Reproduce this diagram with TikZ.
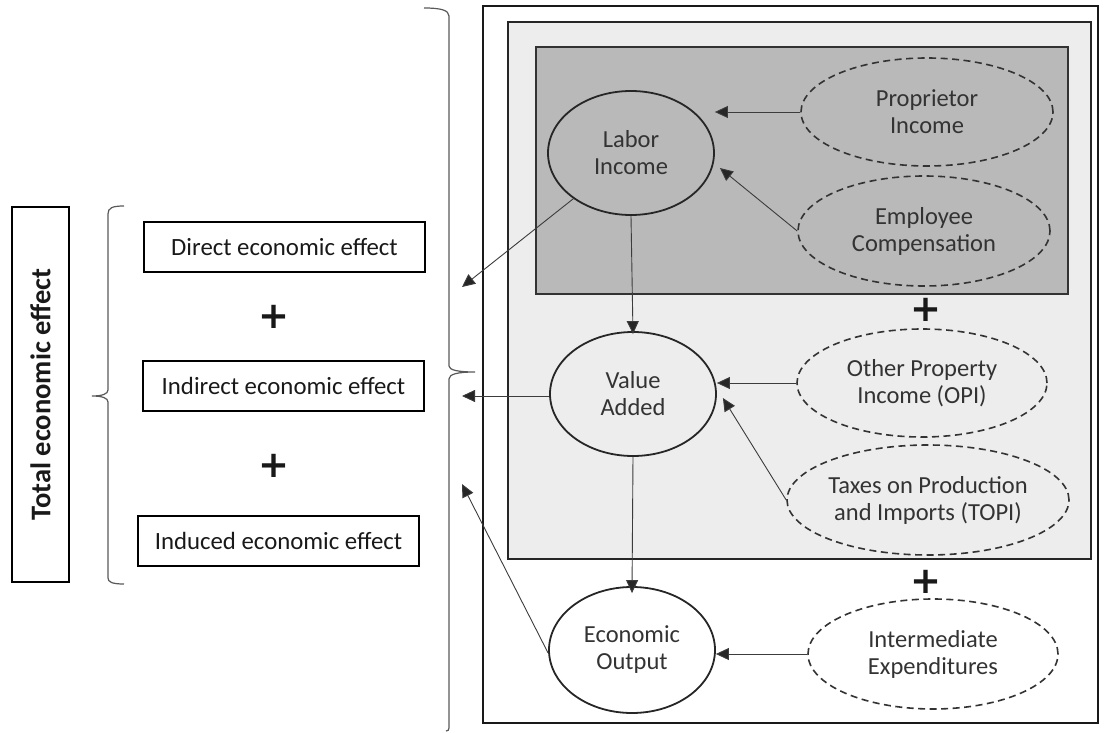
\documentclass[tikz,border=0pt]{standalone}
\usepackage{fontspec}
\setmainfont{Carlito}
\newfontfamily\plusfont{DejaVu Sans}
\usetikzlibrary{shapes.geometric,arrows.meta,calc}
\definecolor{darkfill}{HTML}{B9B9B9}
\definecolor{lightfill}{HTML}{EDEDED}
\definecolor{txtgray}{HTML}{333333}
\definecolor{linegray}{HTML}{3C3C3C}
\tikzset{
  effbox/.style={draw=black,line width=1.6pt,minimum width=281pt,minimum height=50pt,inner sep=0pt,
    font=\fontsize{24.8}{27}\selectfont,text=black!90},
  solidell/.style={ellipse,draw=black!85,line width=1.8pt,inner sep=0pt,align=center,
    font=\fontsize{24.5}{27}\selectfont,text=txtgray},
  dashell/.style={ellipse,draw=black!80,line width=1.6pt,dash pattern=on 7pt off 4.5pt,inner sep=0pt,align=center,
    font=\fontsize{24.5}{27}\selectfont,text=txtgray},
  arr/.style={draw=linegray,line width=0.9pt,-{Triangle[length=13pt,width=12pt,fill=black!85]}},
  bracestyle/.style={draw=black!65,line width=1.2pt},
  plussign/.style={font=\plusfont\fontsize{37}{37}\bfseries\selectfont,text=black!90,inner sep=0pt}
}
\begin{document}
\begin{tikzpicture}[x=1pt,y=-1pt]
\useasboundingbox (0,0) rectangle (1104,733);
% frames
\draw[line width=2.2pt,black!90] (483,6) rectangle (1098,723);
\draw[line width=1.8pt,black!85,fill=lightfill] (508,22) rectangle (1091,559);
\draw[line width=1.8pt,black!80,fill=darkfill] (536,47) rectangle (1068,294);

% left side
\node[draw=black,line width=2pt,minimum width=57pt,minimum height=375pt,inner sep=0pt] (total) at (40.5,394.5) {};
\node[rotate=90,font=\fontsize{28.5}{30}\bfseries\selectfont,text=black!90] (totaltxt) at (total.center) {Total economic effect};
\node[effbox] (direct) at (284.5,247) {Direct economic effect};
\node[effbox] (indirect) at (283.5,386) {Indirect economic effect};
\node[effbox] (induced) at (278.5,541) {Induced economic effect};
\node[plussign] (p1) at (273.5,317) {+};
\node[plussign] (p2) at (273.5,466) {+};

% braces
\draw[bracestyle] (124,206) .. controls (112,206) and (108,208) .. (108,214) -- (108,390)
  .. controls (108,394) and (102,396) .. (92,396)
  .. controls (102,396) and (108,398) .. (108,402) -- (108,578)
  .. controls (108,582) and (112,584) .. (124,584);
\draw[bracestyle] (424,8) .. controls (440,8) and (449,10) .. (449,16) -- (449,366)
  .. controls (449,370) and (458,372) .. (475,372)
  .. controls (458,372) and (449,374) .. (449,379) -- (449,728)
  .. controls (449,730) and (448,731) .. (446,731);

% ellipses
\node[solidell,minimum width=166pt,minimum height=124pt] (LI) at (631,153) {Labor\\Income};
\node[dashell,minimum width=252pt,minimum height=108pt] (PI) at (927,112) {Proprietor\\Income};
\node[dashell,minimum width=252pt,minimum height=110pt] (EC) at (924,231) {Employee\\Compensation};
\node[solidell,minimum width=166pt,minimum height=124pt] (VA) at (633,394) {Value\\Added};
\node[dashell,minimum width=250pt,minimum height=108pt] (OPI) at (922,383) {Other Property\\Income (OPI)};
\node[dashell,minimum width=250pt,minimum height=110pt] (TOPI) at (928,500) {Taxes on Production\\and Imports (TOPI)};
\node[solidell,minimum width=166pt,minimum height=126pt] (EO) at (632,650) {Economic\\Output};
\node[dashell,minimum width=250pt,minimum height=110pt] (IE) at (933,654) {Intermediate\\Expenditures};
\node[plussign] (p3) at (925.5,310) {+};
\node[plussign] (p4) at (925.5,582) {+};

% targets on the left
\coordinate (t1) at (462,287);
\coordinate (t2) at (462,396);
\coordinate (t3) at (462,484);

% arrows
\draw[arr] (PI.west) -- (PI.west -| LI.east);
\draw[arr] (EC.west) -- ([shift={(5,15)}]LI.east);
\draw[arr] (LI.south) -- ([yshift=-3]VA.north);
\draw[arr] (OPI.west) -- (OPI.west -| VA.east);
\draw[arr] (TOPI.west) -- ([shift={(6,4)}]VA.east);
\draw[arr] (VA.south) -- ([yshift=-7]EO.north);
\draw[arr] (IE.west) -- (IE.west -| EO.east);
\draw[arr] (LI) -- (t1);
\draw[arr] (VA.west |- t2) -- (t2);
\draw[arr] ([yshift=-3]EO.west) -- (t3);
\end{tikzpicture}
\end{document}
